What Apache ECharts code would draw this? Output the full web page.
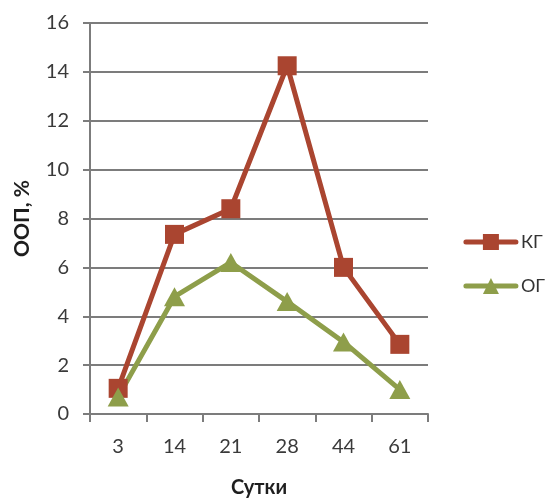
<!DOCTYPE html>
<html>
<head>
<meta charset="utf-8">
<script src="https://cdn.jsdelivr.net/npm/echarts@6/dist/echarts.min.js"></script>
<style>html,body{margin:0;padding:0;background:#fff}#c{width:548px;height:503px}</style>
</head>
<body>
<div id="c"></div>
<script>
const categories = ['3', '14', '21', '28', '44', '61'];
const kgValues = [1.05, 7.35, 8.4, 14.25, 6.0, 2.85];
const ogValues = [0.7, 4.8, 6.2, 4.6, 2.95, 1.0];
const seriesNames = ['КГ', 'ОГ'];

const font = 'Lato, "Open Sans", sans-serif';
const axisGray = '#7c7c7c';
const chart = echarts.init(document.getElementById('c'), null, {renderer: 'canvas'});
chart.setOption({
  animation: false,
  backgroundColor: '#fff',
  textStyle: {fontFamily: font},
  grid: {left: 90, right: 120, top: 23, bottom: 83, containLabel: false},
  legend: {
    orient: 'vertical', right: 3, top: 233, padding: 0,
    itemWidth: 50, itemHeight: 20, itemGap: 26,
    textStyle: {fontFamily: font, fontSize: 18, color: '#333'},
    lineStyle: {width: 5, cap: 'round'},
    data: seriesNames
  },
  xAxis: {
    type: 'category', data: categories, boundaryGap: true,
    name: 'Сутки', nameLocation: 'middle', nameGap: 64,
    nameTextStyle: {fontFamily: font, fontSize: 20, fontWeight: 'bold', color: '#1e1e1e'},
    axisLine: {lineStyle: {color: axisGray, width: 2}},
    axisTick: {show: true, length: 8, alignWithLabel: false, lineStyle: {color: axisGray, width: 2}},
    axisLabel: {fontSize: 20, color: '#3a3a3a', margin: 23}
  },
  yAxis: {
    type: 'value', min: 0, max: 16, interval: 2,
    name: 'ООП, %', nameLocation: 'middle', nameGap: 57, nameRotate: 90,
    nameTextStyle: {fontFamily: font, fontSize: 21, fontWeight: 'bold', color: '#1e1e1e'},
    axisLine: {show: true, lineStyle: {color: axisGray, width: 2}},
    axisTick: {show: true, length: 7, lineStyle: {color: axisGray, width: 2}},
    axisLabel: {fontSize: 20, color: '#3a3a3a', margin: 21},
    splitLine: {show: true, lineStyle: {color: axisGray, width: 2}}
  },
  series: [
    {
      name: seriesNames[0], type: 'line', data: kgValues,
      symbol: 'rect', symbolSize: 19,
      lineStyle: {color: '#AA4530', width: 5},
      itemStyle: {color: '#AA4530'}
    },
    {
      name: seriesNames[1], type: 'line', data: ogValues,
      symbol: 'triangle', symbolSize: [21, 19],
      lineStyle: {color: '#8E9E4A', width: 5},
      itemStyle: {color: '#8E9E4A'}
    }
  ]
});
</script>
</body>
</html>
